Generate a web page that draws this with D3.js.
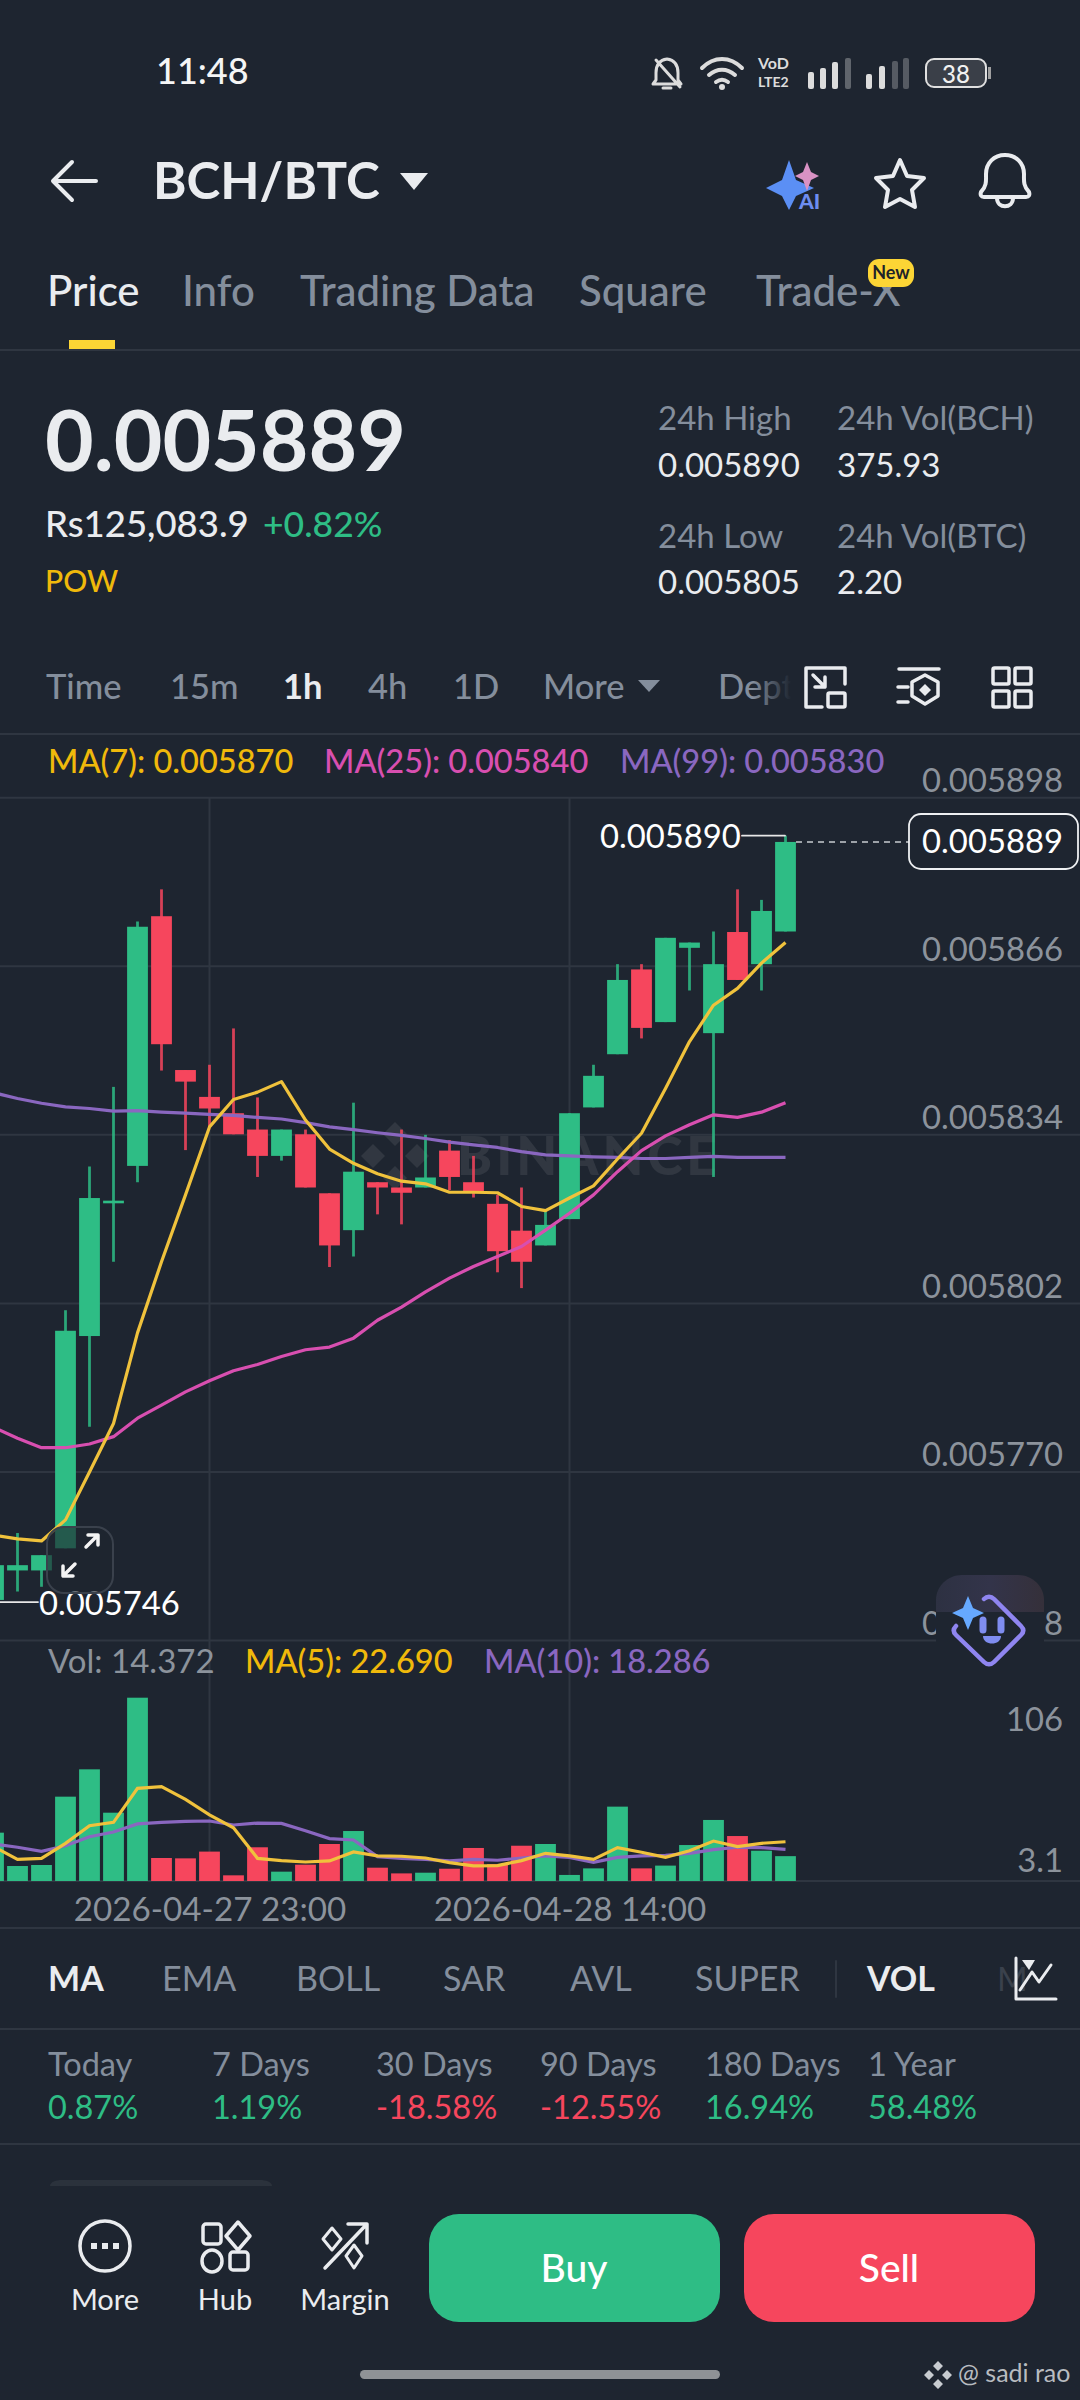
<!doctype html>
<html>
<head>
	<meta charset="utf-8">
	<title>BCH/BTC</title>
	<style>
		html, body { margin: 0; padding: 0; background: #1e2530; }
		svg { display: block; }
		text { font-family: Lato, "Open Sans", sans-serif; }
	</style>
	<script src="https://cdn.jsdelivr.net/npm/d3@7/dist/d3.min.js"></script>
</head>
<body>
<script>
	// prices are in millionths of BTC (5889 = 0.005889), one candle per hour
	var open = [5745.7, 5751.3, 5751.3, 5755.5, 5795.8, 5821.0, 5828.1, 5875.5, 5846.3, 5841.2, 5838.1, 5835.0, 5830.0, 5834.1, 5822.9, 5815.9, 5825.0, 5824.0, 5824.0, 5831.0, 5825.0, 5820.9, 5815.8, 5813.0, 5818.0, 5839.2, 5849.3, 5865.4, 5855.4, 5869.5, 5853.3, 5872.5, 5866.4, 5872.6];
	var close = [5752.3, 5752.3, 5754.2, 5796.8, 5822.0, 5821.5, 5873.5, 5851.2, 5844.1, 5839.0, 5834.1, 5830.0, 5835.0, 5824.0, 5813.0, 5827.0, 5824.0, 5823.0, 5825.9, 5826.0, 5823.0, 5811.9, 5809.9, 5816.9, 5838.1, 5845.2, 5863.4, 5854.3, 5871.4, 5870.5, 5866.4, 5863.4, 5876.5, 5889.6];
	var high = [5755.6, 5758.4, 5754.2, 5800.7, 5828.0, 5843.1, 5874.5, 5880.6, 5846.3, 5847.3, 5854.2, 5841.1, 5835.0, 5835.0, 5822.9, 5840.1, 5825.0, 5835.0, 5834.0, 5833.0, 5830.0, 5822.6, 5824.0, 5819.7, 5838.1, 5847.3, 5866.4, 5866.4, 5871.4, 5870.5, 5872.6, 5880.6, 5878.6, 5890.8];
	var low = [5745.3, 5747.3, 5748.2, 5755.5, 5778.6, 5809.9, 5825.0, 5846.2, 5831.1, 5835.5, 5834.1, 5826.0, 5829.1, 5824.0, 5808.9, 5810.9, 5818.9, 5817.0, 5824.0, 5823.5, 5822.1, 5807.9, 5804.9, 5813.0, 5818.0, 5839.2, 5849.3, 5852.3, 5855.4, 5861.4, 5826.0, 5863.4, 5861.4, 5872.6];
	var ma7 = [5758.0, 5757.3, 5756.9, 5760.9, 5770.0, 5779.2, 5796.4, 5809.9, 5822.6, 5835.5, 5840.7, 5842.1, 5844.1, 5836.8, 5831.3, 5828.6, 5826.6, 5825.2, 5824.7, 5823.1, 5823.1, 5823.0, 5820.4, 5819.6, 5822.0, 5824.3, 5829.4, 5834.3, 5842.8, 5851.7, 5858.6, 5861.8, 5866.6, 5870.5];
	var ma25 = [5778.5, 5776.4, 5774.6, 5774.6, 5775.3, 5776.7, 5780.2, 5782.7, 5785.2, 5787.3, 5789.2, 5790.4, 5791.9, 5793.2, 5793.7, 5795.4, 5798.8, 5801.3, 5804.2, 5806.8, 5809.0, 5810.9, 5812.8, 5815.9, 5819.1, 5822.6, 5827.0, 5831.0, 5833.8, 5835.9, 5837.8, 5837.3, 5838.3, 5840.1];
	var ma99 = [5842.0, 5840.9, 5840.0, 5839.3, 5839.0, 5838.5, 5838.6, 5838.3, 5838.1, 5837.9, 5837.7, 5837.3, 5837.0, 5836.3, 5835.5, 5835.0, 5834.4, 5833.9, 5833.3, 5832.6, 5832.1, 5831.6, 5830.8, 5830.2, 5830.0, 5829.8, 5829.7, 5829.5, 5829.5, 5829.7, 5829.9, 5829.7, 5829.7, 5829.7];
	var volume = [27.95, 8.67, 9.25, 48.77, 64.58, 39.5, 106, 13.3, 13.1, 17.0, 3.28, 19.5, 5.4, 9.45, 21.4, 28.9, 7.7, 4.4, 4.8, 7.1, 19.1, 9.8, 20.4, 21.4, 3.5, 7.3, 43.0, 7.3, 8.9, 20.8, 35.3, 26.0, 17.5, 14.372];
	var volMa5 = [19.9, 12.5, 13.1, 21.8, 32.0, 33.9, 53.6, 54.6, 47.2, 38.2, 30.8, 13.1, 11.8, 11.0, 11.6, 16.8, 14.5, 14.3, 13.3, 10.6, 8.7, 8.9, 11.8, 16.0, 14.5, 12.5, 19.3, 16.6, 13.7, 17.5, 23.1, 19.9, 21.8, 22.69];
	var volMa10 = [21.4, 19.5, 17.2, 20.4, 25.6, 28.3, 33.0, 33.9, 34.5, 34.7, 32.4, 33.5, 33.3, 29.1, 24.5, 23.7, 14.1, 13.1, 12.5, 11.6, 12.5, 12.0, 13.3, 14.5, 13.7, 10.8, 13.7, 14.5, 14.8, 16.0, 18.1, 19.5, 19.3, 18.286];

	var priceTicks = [5898, 5866, 5834, 5802, 5770, 5738];
	var volTicks = [106, 3.1];
	var timeIndex = [9, 24];
	var timeLabels = ['2026-04-27 23:00', '2026-04-28 14:00'];

	var tabNames = ['Price', 'Info', 'Trading Data', 'Square', 'Trade-X'];
	var intervalNames = ['Time', '15m', '1h', '4h', '1D', 'More'];
	var indicatorNames = ['MA', 'EMA', 'BOLL', 'SAR', 'AVL', 'SUPER', 'VOL'];
	var periodNames = ['Today', '7 Days', '30 Days', '90 Days', '180 Days', '1 Year'];
	var periodValues = ['0.87%', '1.19%', '-18.58%', '-12.55%', '16.94%', '58.48%'];

	var bg = '#1e2530', up = '#2ebd85', down = '#f6465d', grey = '#848e9c', axisGrey = '#8c939c',
		white = '#eaecef', yellow = '#f0c23c', pink = '#d84fb0', purple = '#8a67c0', rule = '#2f3641';

	var svg = d3.select('body').append('svg').attr('width', 1080).attr('height', 2400);
	svg.append('rect').attr('width', 1080).attr('height', 2400).attr('fill', bg);
	var defs = svg.append('defs');

	var x = d3.scaleLinear().domain([0, 33]).range([-6.5, 785.5]);
	var yPrice = d3.scaleLinear().domain([5738, 5898]).range([1640.5, 797.7]);
	var yVol = d3.scaleLinear().domain([0, 106]).range([1881, 1697.7]);
	var candleW = 20.8;

	function label(px, py, str, size, fill, weight, anchor) {
		return svg.append('text').attr('x', px).attr('y', py).text(str)
			.attr('font-size', size).attr('fill', fill)
			.attr('font-weight', weight || 400).attr('text-anchor', anchor || 'start');
	}
	function hr(py, color) {
		svg.append('line').attr('x1', 0).attr('x2', 1080).attr('y1', py).attr('y2', py)
			.attr('stroke', color || rule).attr('stroke-width', 2);
	}
	function path(d, color, width, fill) {
		return svg.append('path').attr('d', d).attr('stroke', color || 'none')
			.attr('stroke-width', width || 0).attr('fill', fill || 'none')
			.attr('stroke-linecap', 'round').attr('stroke-linejoin', 'round');
	}

	// status bar
	label(156, 84, '11:48', 36, '#f5f5f5', 500);
	path('M667 59c-8 1-11 7-11 14v7l-3 4h28l-3-4v-7c0-7-3-13-11-14zM663 88h8M656 60l24 27', '#dcdcdc', 3, 'none');
	path('M702 68c12-12 28-12 40 0M709 75c8-7 18-7 26 0M716 82c4-3 8-3 12 0', '#dcdcdc', 4);
	svg.append('circle').attr('cx', 722).attr('cy', 87).attr('r', 3).attr('fill', '#dcdcdc');
	label(758, 69, 'VoD', 16, '#dcdcdc', 700);
	label(758, 87, 'LTE2', 14, '#dcdcdc', 700);
	[[808, 72, 1], [820, 68, 1], [832, 62, 1], [845, 58, 0.35], [866, 74, 1], [879, 66, 1], [892, 61, 0.3], [903, 58, 0.3]].forEach(function(b) {
		svg.append('rect').attr('x', b[0]).attr('y', b[1]).attr('width', 6).attr('height', 89 - b[1]).attr('rx', 2)
			.attr('fill', '#dcdcdc').attr('opacity', b[2]);
	});
	svg.append('rect').attr('x', 926).attr('y', 59).attr('width', 60).attr('height', 28).attr('rx', 8)
		.attr('fill', '#3a3f48').attr('stroke', '#e0e0e0').attr('stroke-width', 2);
	svg.append('rect').attr('x', 988).attr('y', 67).attr('width', 3).attr('height', 12).attr('fill', '#a0a0a0');
	label(956, 83, '38', 24, '#f0f0f0', 500, 'middle');

	// header
	path('M72 162l-19 19 19 19M54 181h42', white, 4);
	label(153, 199, 'BCH/BTC', 51, white, 700);
	path('M400 173h28l-14 17z', null, 0, white);
	path('M789 160l7 20 18 8-18 8-7 14-7-14-16-8 16-8z', null, 0, '#5b8ff5');
	path('M807 162l4 10 8 4-8 4-4 11-4-11-8-4 8-4z', null, 0, '#d992c4');
	label(799, 209, 'AI', 21, '#6d8df0', 900);
	path('M900 160l7 16 17 2-12 12 3 17-15-8-15 8 3-17-12-12 17-2z', white, 4);
	path('M981 192c6-6 5-12 5-18 0-11 8-19 19-19s19 8 19 19c0 6-1 12 5 18 1 3 0 5-3 5h-42c-3 0-4-2-3-5zM997 198c0 11 16 11 16 0', white, 4);

	// tabs
	var tabX = [47, 182, 300, 579, 756];
	tabNames.forEach(function(t, i) {
		label(tabX[i], 306, t, 42, i === 0 ? white : grey, 500);
	});
	svg.append('rect').attr('x', 868).attr('y', 259).attr('width', 46).attr('height', 28).attr('rx', 11).attr('fill', '#fcd535');
	label(891, 279, 'New', 18, '#1e2329', 700, 'middle');
	svg.append('rect').attr('x', 69).attr('y', 340).attr('width', 46).attr('height', 9).attr('fill', '#fcd535');
	hr(350);

	// price block
	label(45, 471, '0.005889', 84, white, 700);
	label(45, 537, 'Rs125,083.9', 36.5, white, 500);
	label(263, 537, '+0.82%', 35.5, up, 500);
	label(45, 592, 'POW', 30, '#f0b90b', 500);
	label(658, 430, '24h High', 33, grey);
	label(658, 477, '0.005890', 33, white);
	label(837, 430, '24h Vol(BCH)', 33, grey);
	label(837, 477, '375.93', 33, white);
	label(658, 548, '24h Low', 33, grey);
	label(658, 594, '0.005805', 33, white);
	label(837, 548, '24h Vol(BTC)', 33, grey);
	label(837, 594, '2.20', 33, white);

	// interval row
	var intervalX = [46, 170, 283, 368, 453, 543];
	intervalNames.forEach(function(t, i) {
		label(intervalX[i], 699, t, 34.5, t === '1h' ? white : grey, t === '1h' ? 700 : 500);
	});
	path('M638 680h22l-11 12z', null, 0, grey);
	var deptFade = defs.append('linearGradient').attr('id', 'deptFade').attr('gradientUnits', 'userSpaceOnUse')
		.attr('x1', 718).attr('x2', 795).attr('y1', 0).attr('y2', 0);
	deptFade.append('stop').attr('offset', 0.45).attr('stop-color', grey);
	deptFade.append('stop').attr('offset', 0.95).attr('stop-color', bg);
	label(718, 699, 'Dept', 34.5, 'url(#deptFade)', 500);
	path('M845 684v-16h-39v39h16', white, 3.5);
	path('M813 675l12 12M825 677v10h-10', white, 3.5);
	svg.append('rect').attr('x', 828).attr('y', 693).attr('width', 17).attr('height', 14).attr('rx', 1.5).attr('fill', 'none').attr('stroke', white).attr('stroke-width', 3.5);
	path('M899 669h40M898 687h10M898 702h10', white, 3.5);
	path('M925 675l13 7v14l-13 8-13-8v-14z', white, 3.5);
	path('M925 684l6 6-6 6-6-6z', null, 0, white);
	[[993, 668], [1015, 668], [993, 691], [1015, 691]].forEach(function(c) {
		svg.append('rect').attr('x', c[0]).attr('y', c[1]).attr('width', 16).attr('height', 16).attr('rx', 1.5).attr('fill', 'none').attr('stroke', white).attr('stroke-width', 3.5);
	});
	hr(734);

	label(48, 773, 'MA(7): 0.005870', 32.6, '#f0b90b', 500);
	label(324, 773, 'MA(25): 0.005840', 32.6, pink, 500);
	label(620, 773, 'MA(99): 0.005830', 32.6, purple, 500);

	// grid
	priceTicks.forEach(function(t) { hr(yPrice(t)); });
	timeIndex.forEach(function(i) {
		svg.append('line').attr('x1', x(i)).attr('x2', x(i)).attr('y1', yPrice(5898)).attr('y2', yVol(0)).attr('stroke', rule).attr('stroke-width', 2);
	});
	hr(yVol(0));

	// watermark
	var wm = svg.append('g').attr('fill', 'rgba(255,255,255,0.085)');
	[[0, -22], [-22, 0], [22, 0], [0, 22]].forEach(function(o) {
		wm.append('path').attr('d', 'M0 -12L12 0L0 12L-12 0Z').attr('transform', 'translate(' + (395 + o[0]) + ',' + (1156 + o[1]) + ')');
	});
	wm.append('text').attr('x', 457).attr('y', 1175).text('BINANCE').attr('font-size', 53).attr('font-weight', 900).attr('letter-spacing', 4);

	// candles
	var candles = d3.range(open.length);
	var color = function(i) { return close[i] >= open[i] ? up : down; };
	svg.append('g').selectAll('line').data(candles).join('line')
		.attr('x1', function(i) { return x(i); }).attr('x2', function(i) { return x(i); })
		.attr('y1', function(i) { return yPrice(high[i]); }).attr('y2', function(i) { return yPrice(low[i]); })
		.attr('stroke', color).attr('stroke-width', 2.8).attr('opacity', 0.85);
	svg.append('g').selectAll('rect').data(candles).join('rect')
		.attr('x', function(i) { return x(i) - candleW / 2; }).attr('width', candleW)
		.attr('y', function(i) { return yPrice(Math.max(open[i], close[i])); })
		.attr('height', function(i) { return Math.abs(yPrice(open[i]) - yPrice(close[i])); })
		.attr('fill', color);

	var priceLine = d3.line().x(function(d, i) { return x(i); }).y(function(d) { return yPrice(d); });
	[[ma99, purple], [ma25, pink], [ma7, yellow]].forEach(function(s) {
		svg.append('path').attr('d', priceLine(s[0])).attr('fill', 'none').attr('stroke', s[1]).attr('stroke-width', 3.2).attr('stroke-linejoin', 'round');
	});

	// price axis
	var priceAxis = svg.append('g').attr('transform', 'translate(1063,0)')
		.call(d3.axisLeft(yPrice).tickValues(priceTicks).tickSize(0).tickPadding(0).tickFormat(function(d) { return (d / 1e6).toFixed(6); }));
	priceAxis.select('.domain').remove();
	priceAxis.selectAll('text').attr('font-size', 32.8).attr('fill', axisGrey).attr('dy', -6).attr('font-family', 'Lato');

	// last price and extremes
	svg.append('line').attr('x1', 796).attr('x2', 909).attr('y1', yPrice(close[33])).attr('y2', yPrice(close[33]))
		.attr('stroke', '#c8ccd0').attr('stroke-width', 1.6).attr('stroke-dasharray', '6 5');
	svg.append('rect').attr('x', 909).attr('y', 814).attr('width', 169).attr('height', 55).attr('rx', 12)
		.attr('fill', bg).attr('stroke', '#eef0f2').attr('stroke-width', 1.8);
	label(1063, 853, '0.005889', 32.8, '#ffffff', 400, 'end');
	label(600, 848, '0.005890', 32.8, '#ffffff');
	path('M742 ' + yPrice(high[33]) + 'H785', '#e8e8e8', 1.8);
	label(39, 1615, '0.005746', 32.8, '#ffffff');
	path('M0 ' + yPrice(low[0]) + 'H38', '#e8e8e8', 1.8);

	// expand button
	svg.append('rect').attr('x', 47).attr('y', 1527).attr('width', 66).attr('height', 66).attr('rx', 17)
		.attr('fill', 'rgba(30,37,48,0.65)').attr('stroke', '#3a414c').attr('stroke-width', 2);
	path('M86 1547l12-12M88 1535h10v10M75 1564l-12 12M73 1576h-10v-10', '#f4f4f4', 3.5);

	// assistant bubble, hides the bottom price label
	var bubbleGrad = defs.append('linearGradient').attr('id', 'bubble').attr('x1', 0).attr('x2', 1).attr('y1', 0).attr('y2', 0);
	bubbleGrad.append('stop').attr('offset', 0).attr('stop-color', '#2d3142');
	bubbleGrad.append('stop').attr('offset', 0.5).attr('stop-color', '#33344a');
	bubbleGrad.append('stop').attr('offset', 1).attr('stop-color', '#35303a');
	svg.append('rect').attr('x', 936).attr('y', 1612).attr('width', 108).attr('height', 40).attr('fill', bg);
	path('M936 1612v-12c0-14 12-25 26-25h56c14 0 26 11 26 25v12z', null, 0, 'url(#bubble)');
	path('M984 1599c3-3 7-3 10 0l27 27c3 3 3 6 0 9l-27 27c-3 3-7 3-10 0l-28-27c-3-3-3-6 0-9', '#8f85f0', 4.5);
	path('M968 1596l5 12 11 5-11 5-5 12-5-12-11-5 11-5z', null, 0, '#66a9ff');
	path('M983 1620v10M1001 1620v10', '#7f8df0', 7);
	path('M983 1636h18c0 10-18 10-18 0z', null, 0, '#7f8df0');

	// volume pane
	label(48, 1673, 'Vol: 14.372', 33, axisGrey);
	label(245, 1673, 'MA(5): 22.690', 32.6, '#f0b90b', 500);
	label(484, 1673, 'MA(10): 18.286', 32.6, purple, 500);

	svg.append('g').selectAll('rect').data(candles).join('rect')
		.attr('x', function(i) { return x(i) - candleW / 2; }).attr('width', candleW)
		.attr('y', function(i) { return yVol(volume[i]); })
		.attr('height', function(i) { return yVol(0) - yVol(volume[i]); })
		.attr('fill', color);
	var volLine = d3.line().x(function(d, i) { return x(i); }).y(function(d) { return yVol(d); });
	[[volMa10, purple], [volMa5, yellow]].forEach(function(s) {
		svg.append('path').attr('d', volLine(s[0])).attr('fill', 'none').attr('stroke', s[1]).attr('stroke-width', 3.2);
	});

	var volAxis = svg.append('g').attr('transform', 'translate(1063,0)')
		.call(d3.axisLeft(yVol).tickValues(volTicks).tickSize(0).tickPadding(0).tickFormat(String));
	volAxis.select('.domain').remove();
	volAxis.selectAll('text').attr('font-size', 32.8).attr('fill', axisGrey).attr('font-family', 'Lato')
		.attr('dy', function(d) { return d === 106 ? 33 : -4; });

	var timeAxis = svg.append('g').attr('transform', 'translate(0,1897)')
		.call(d3.axisBottom(x).tickValues(timeIndex).tickSize(0).tickPadding(0).tickFormat(function(d, i) { return timeLabels[i]; }));
	timeAxis.select('.domain').remove();
	timeAxis.selectAll('text').attr('font-size', 33.2).attr('fill', axisGrey).attr('font-family', 'Lato');
	hr(1928);

	// indicators
	var indicatorX = [48, 162, 296, 443, 570, 695, 867];
	indicatorNames.forEach(function(t, i) {
		var on = t === 'MA' || t === 'VOL';
		label(indicatorX[i], 1991, t, 34, on ? white : grey, on ? 700 : 400);
	});
	path('M836 1961v36', rule, 2);
	label(997, 1991, 'M', 33, '#3a414c');
	path('M1016 1958v41h40', white, 3);
	path('M1020 1990l12-18 7 10 12-17', white, 3);
	path('M1022 1960h13l-6 10z', null, 0, white);
	hr(2029);

	// period performance
	var periodX = [48, 212, 376, 540, 705, 868];
	periodNames.forEach(function(t, i) {
		label(periodX[i], 2076, t, 32.5, grey);
		label(periodX[i], 2119, periodValues[i], 32.5, periodValues[i].charAt(0) === '-' ? down : up);
	});
	hr(2144);
	svg.append('path').attr('d', 'M50 2186c0-4 6-6 12-6h198c6 0 12 2 12 6z').attr('fill', '#2b323c');

	// footer
	svg.append('circle').attr('cx', 105).attr('cy', 2246).attr('r', 25).attr('fill', 'none').attr('stroke', white).attr('stroke-width', 3.5);
	[94, 105, 116].forEach(function(c) {
		svg.append('rect').attr('x', c - 3).attr('y', 2243).attr('width', 6).attr('height', 6).attr('fill', white);
	});
	svg.append('rect').attr('x', 203).attr('y', 2224).attr('width', 18).attr('height', 20).attr('rx', 3).attr('fill', 'none').attr('stroke', white).attr('stroke-width', 3.5);
	path('M238 2222l12 14-12 14-12-14z', white, 3.5);
	svg.append('ellipse').attr('cx', 212).attr('cy', 2261).attr('rx', 10).attr('ry', 11).attr('fill', 'none').attr('stroke', white).attr('stroke-width', 3.5);
	svg.append('rect').attr('x', 230).attr('y', 2252).attr('width', 18).attr('height', 18).attr('rx', 3).attr('fill', 'none').attr('stroke', white).attr('stroke-width', 3.5);
	path('M325 2268l42-44M348 2224h19v19', white, 3.5);
	path('M332 2228l9 11-9 11-9-11z', white, 3);
	path('M354 2245l8 11-8 12-8-12z', white, 3);
	label(105, 2310, 'More', 29, white, 400, 'middle');
	label(225, 2310, 'Hub', 29, white, 400, 'middle');
	label(345, 2310, 'Margin', 29, white, 400, 'middle');
	svg.append('rect').attr('x', 429).attr('y', 2214).attr('width', 291).attr('height', 108).attr('rx', 30).attr('fill', up);
	svg.append('rect').attr('x', 744).attr('y', 2214).attr('width', 291).attr('height', 108).attr('rx', 30).attr('fill', down);
	label(574, 2282, 'Buy', 39, '#ffffff', 500, 'middle');
	label(889, 2282, 'Sell', 39, '#ffffff', 500, 'middle');
	svg.append('rect').attr('x', 360).attr('y', 2370).attr('width', 360).attr('height', 9).attr('rx', 4.5).attr('fill', '#8f9296');
	path('M938 2361l5 5-5 5-5-5zM938 2379l5 5-5 5-5-5zM929 2370l5 5-5 5-5-5zM947 2370l5 5-5 5-5-5z', null, 0, '#c8ccd0');
	label(958, 2382, '@ sadi rao', 25, '#b8bcc0');
</script>
</body>
</html>
